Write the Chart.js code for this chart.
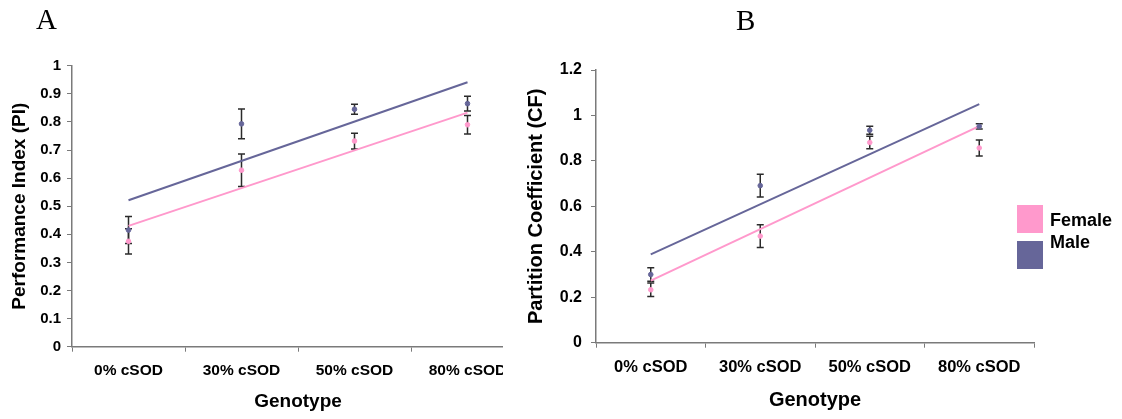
<!DOCTYPE html>
<html>
<head>
<meta charset="utf-8">
<script src="https://cdn.jsdelivr.net/npm/chart.js@4.4.1/dist/chart.umd.min.js"></script>
<style>
  html, body { margin: 0; padding: 0; background: #fff; }
  body { width: 1122px; height: 419px; position: relative; overflow: hidden; }
  #wrapA { position: absolute; left: 0; top: 0; width: 503px; height: 419px; overflow: hidden; }
  #cA { position: absolute; left: 0; top: 0; }
  #cB { position: absolute; left: 520px; top: 0; }
  .panel { position: absolute; font-family: 'Liberation Serif', 'Times New Roman', serif; font-size: 29px; line-height: 1; color: #000; }
</style>
</head>
<body>
<div id="wrapA"><canvas id="cA" width="545" height="419"></canvas></div>
<canvas id="cB" width="602" height="419"></canvas>
<div class="panel" id="tA" style="left:36px; top:5px;">A</div>
<div class="panel" id="tB" style="left:736px; top:6px;">B</div>
<script>
// ---------- data ----------
const categories = ['0% cSOD', '30% cSOD', '50% cSOD', '80% cSOD'];
const seriesNames = ['Female', 'Male'];

// Panel A: Performance Index (PI)
const femaleA = [0.375, 0.628, 0.732, 0.79];
const femaleErrA = [0.045, 0.058, 0.028, 0.033];
const maleA = [0.415, 0.793, 0.845, 0.865];
const maleErrA = [0.048, 0.053, 0.018, 0.026];
const femaleTrendA = [0.43, 0.833];
const maleTrendA = [0.521, 0.941];
const yTicksA = [0, 0.1, 0.2, 0.3, 0.4, 0.5, 0.6, 0.7, 0.8, 0.9, 1];

// Panel B: Partition Coefficient (CF)
const femaleB = [0.233, 0.469, 0.881, 0.857];
const femaleErrB = [0.03, 0.05, 0.027, 0.035];
const maleB = [0.30, 0.691, 0.935, 0.952];
const maleErrB = [0.03, 0.05, 0.018, 0.012];
const femaleTrendB = [0.273, 0.953];
const maleTrendB = [0.389, 1.05];
const yTicksB = [0, 0.2, 0.4, 0.6, 0.8, 1, 1.2];

// ---------- styles ----------
const PINK = '#FF99CC';
const BLUE = '#666699';
const AXIS = '#7a7a7a';
const FONT = "'Liberation Sans', Arial, Helvetica, sans-serif";

function trendData(ends) {
  const d = categories.map(() => null);
  d[0] = ends[0];
  d[d.length - 1] = ends[1];
  return d;
}

const errorBarPlugin = {
  id: 'errorBars',
  beforeDatasetsDraw(chart) {
    const ctx = chart.ctx;
    const x = chart.scales.x, y = chart.scales.y;
    ctx.save();
    ctx.strokeStyle = '#2b2b2b';
    ctx.lineWidth = 1.5;
    chart.data.datasets.forEach(ds => {
      if (!ds.errors) return;
      ds.data.forEach((v, i) => {
        const e = ds.errors[i];
        const px = x.getPixelForValue(i);
        const top = y.getPixelForValue(v + e);
        const bot = y.getPixelForValue(v - e);
        ctx.beginPath();
        ctx.moveTo(px, top); ctx.lineTo(px, bot);
        ctx.moveTo(px - 3.5, top); ctx.lineTo(px + 3.5, top);
        ctx.moveTo(px - 3.5, bot); ctx.lineTo(px + 3.5, bot);
        ctx.stroke();
      });
    });
    ctx.restore();
  }
};

function makeChart(canvasId, cfg) {
  const datasets = [
    { label: seriesNames[0], data: cfg.female, errors: cfg.femaleErr, showLine: false,
      pointRadius: 2.3, pointBackgroundColor: PINK, pointBorderColor: PINK, borderColor: PINK, backgroundColor: PINK },
    { label: seriesNames[1], data: cfg.male, errors: cfg.maleErr, showLine: false,
      pointRadius: 2.3, pointBackgroundColor: BLUE, pointBorderColor: BLUE, borderColor: BLUE, backgroundColor: BLUE },
    { label: seriesNames[0] + ' trend', data: trendData(cfg.femaleTrend), spanGaps: true,
      borderColor: PINK, borderWidth: 2, pointRadius: 0, fill: false },
    { label: seriesNames[1] + ' trend', data: trendData(cfg.maleTrend), spanGaps: true,
      borderColor: BLUE, borderWidth: 2, pointRadius: 0, fill: false }
  ];
  return new Chart(document.getElementById(canvasId), {
    type: 'line',
    data: { labels: categories, datasets },
    options: {
      responsive: false,
      animation: false,
      events: [],
      layout: { padding: { left: 0, top: cfg.top, right: cfg.right, bottom: 0 } },
      plugins: { legend: { display: false }, tooltip: { enabled: false }, title: { display: false } },
      scales: {
        x: {
          type: 'category',
          offset: true,
          grid: { display: true, offset: true, drawOnChartArea: false, drawTicks: true, tickLength: 5, color: AXIS, lineWidth: 1 },
          border: { display: true, color: AXIS, width: 1.5 },
          ticks: { autoSkip: false, maxRotation: 0, minRotation: 0, padding: cfg.xTickPad, color: '#000',
                   font: { family: FONT, size: cfg.xTickSize, weight: 'bold', lineHeight: 1.2 } },
          title: { display: true, text: 'Genotype', color: '#000', padding: { top: 0, bottom: cfg.xTitlePad },
                   font: { family: FONT, size: cfg.titleSize, weight: 'bold', lineHeight: 1.2 } },
          afterFit(s) { s.height = cfg.xHeight; }
        },
        y: {
          type: 'linear',
          min: cfg.yTicks[0],
          max: cfg.yTicks[cfg.yTicks.length - 1],
          afterBuildTicks(s) { s.ticks = cfg.yTicks.map(v => ({ value: v })); },
          grid: { display: true, drawOnChartArea: false, drawTicks: true, tickLength: 5, color: AXIS, lineWidth: 1 },
          border: { display: true, color: AXIS, width: 1.5 },
          ticks: { padding: cfg.yTickPad, color: '#000', callback: v => String(v),
                   font: { family: FONT, size: cfg.yTickSize, weight: 'bold', lineHeight: 1.2 } },
          title: { display: true, text: cfg.yTitle, color: '#000', padding: { top: cfg.yTitlePad, bottom: 0 },
                   font: { family: FONT, size: cfg.titleSize, weight: 'bold', lineHeight: 1.2 } },
          afterFit(s) { s.width = cfg.yWidth; }
        }
      }
    },
    plugins: [errorBarPlugin].concat(cfg.extraPlugins || [])
  });
}

const legendPlugin = {
  id: 'sideLegend',
  afterDraw(chart) {
    const ctx = chart.ctx;
    ctx.save();
    const colors = [PINK, BLUE];
    const boxTops = [205, 241];
    const textY = [221, 243];
    ctx.font = 'bold 18px ' + FONT;
    ctx.textBaseline = 'middle';
    ctx.textAlign = 'left';
    seriesNames.forEach((name, i) => {
      ctx.fillStyle = colors[i];
      ctx.fillRect(497, boxTops[i], 26, 28);
      ctx.fillStyle = '#000';
      ctx.fillText(name, 530, textY[i]);
    });
    ctx.restore();
  }
};

makeChart('cA', {
  female: femaleA, femaleErr: femaleErrA, male: maleA, maleErr: maleErrA,
  femaleTrend: femaleTrendA, maleTrend: maleTrendA, yTicks: yTicksA,
  yTitle: 'Performance Index (PI)', titleSize: 19, xTickSize: 15.5, yTickSize: 15,
  top: 65.7, right: 21, xHeight: 72.3, yWidth: 72,
  xTickPad: 9.8, xTitlePad: 6, yTickPad: 6, yTitlePad: 8.5
});

makeChart('cB', {
  female: femaleB, femaleErr: femaleErrB, male: maleB, maleErr: maleErrB,
  femaleTrend: femaleTrendB, maleTrend: maleTrendB, yTicks: yTicksB,
  yTitle: 'Partition Coefficient (CF)', titleSize: 20, xTickSize: 16.5, yTickSize: 16,
  top: 70, right: 88, xHeight: 76.3, yWidth: 76,
  xTickPad: 10.1, xTitlePad: 7, yTickPad: 9, yTitlePad: 4,
  extraPlugins: [legendPlugin]
});
</script>
</body>
</html>
